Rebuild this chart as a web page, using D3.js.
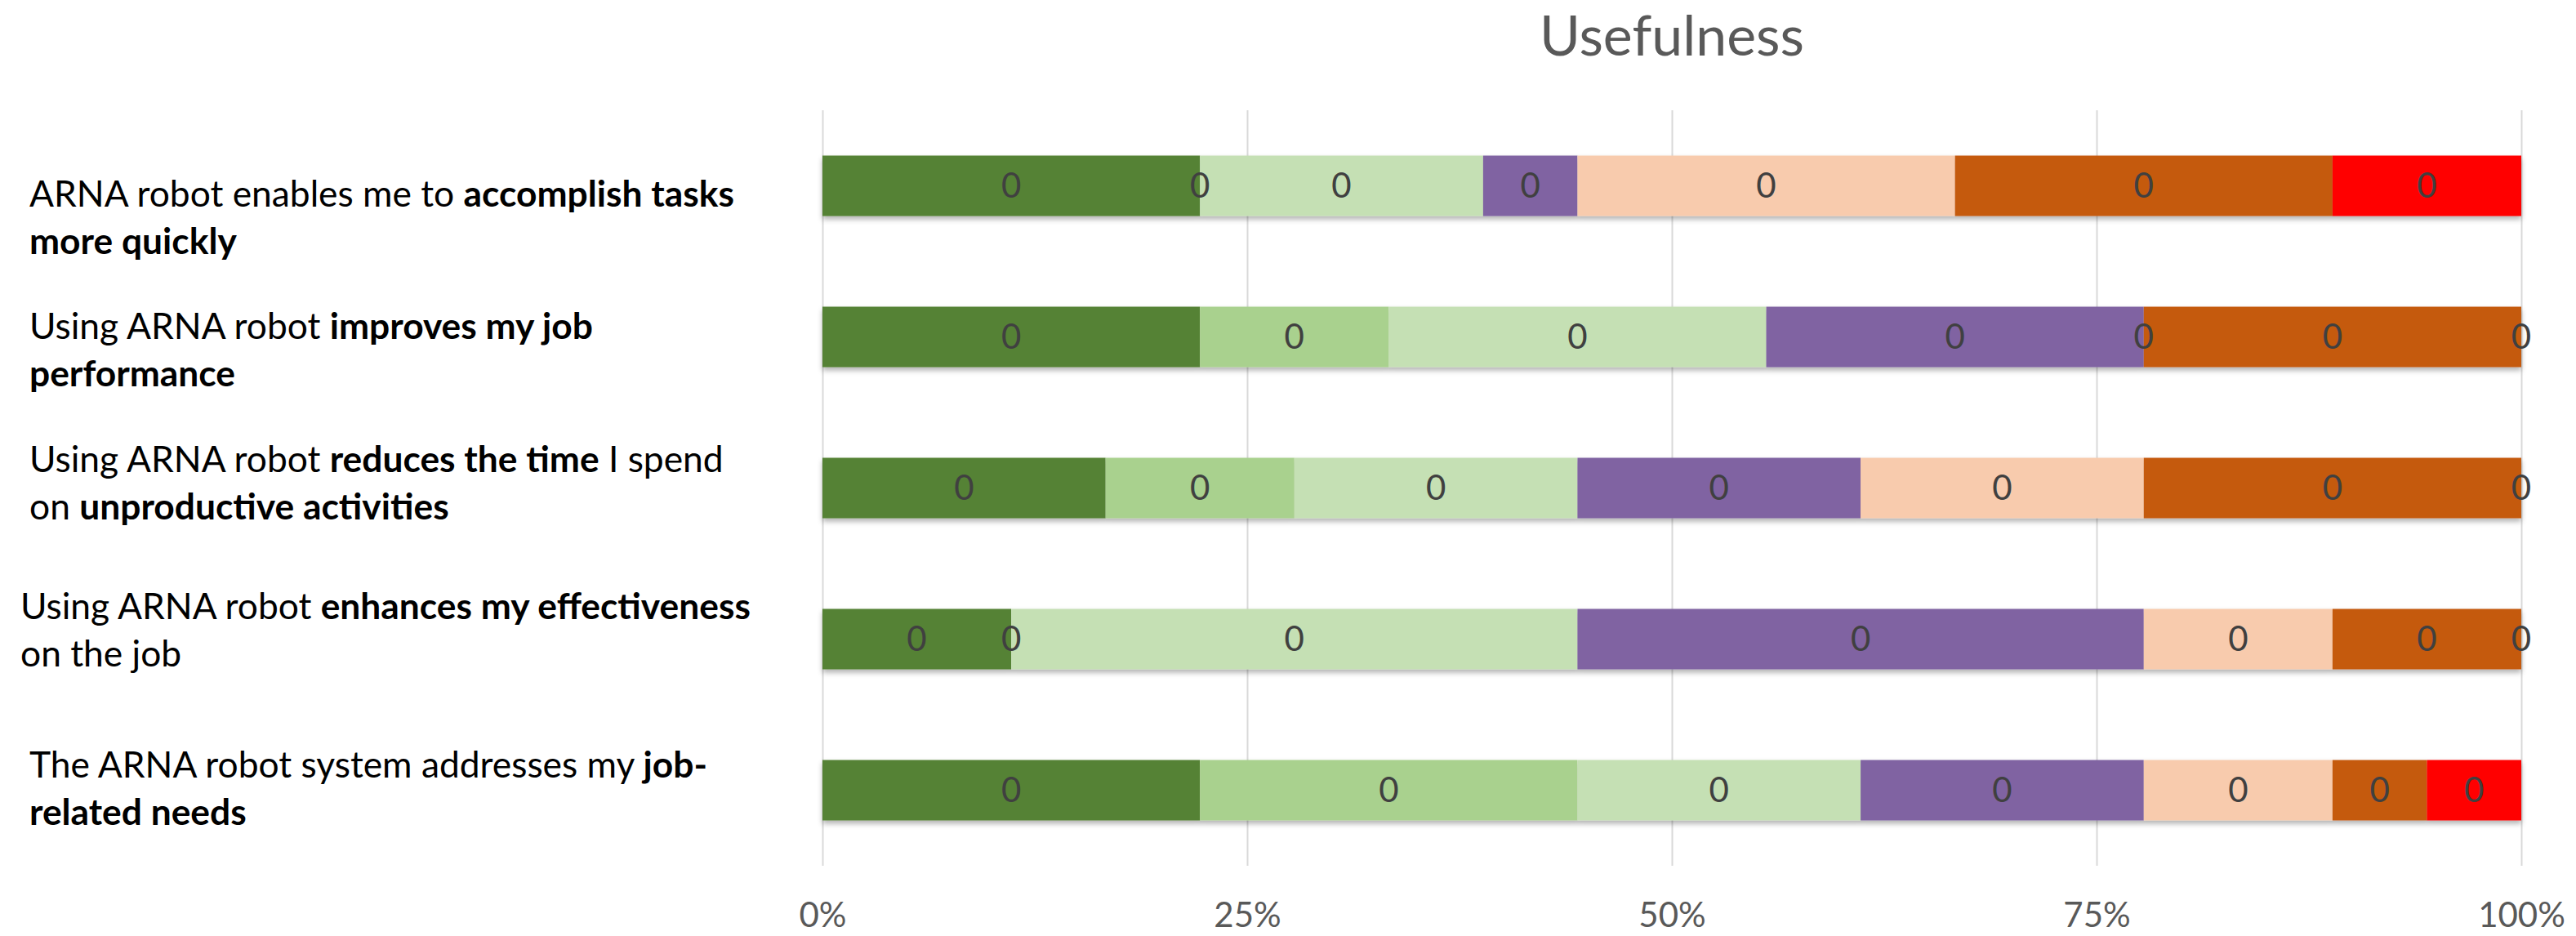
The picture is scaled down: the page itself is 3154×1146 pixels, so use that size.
<!DOCTYPE html>
<html>
<head>
<meta charset="utf-8">
<script src="https://cdn.jsdelivr.net/npm/d3@7"></script>
<style>
  body { margin: 0; background: #fff; }
  svg { display: block; font-family: Lato, "Open Sans", sans-serif; }
</style>
</head>
<body>
<svg id="chart" width="3154" height="1146"></svg>
<script>
// statements, each line is a list of [text, bold]
const statements = [
  [[["ARNA robot enables me to ", false], ["accomplish tasks", true]], [["more quickly", true]]],
  [[["Using ARNA robot ", false], ["improves my job", true]], [["performance", true]]],
  [[["Using ARNA robot ", false], ["reduces the time", true], [" I spend", false]], [["on ", false], ["unproductive activities", true]]],
  [[["Using ARNA robot ", false], ["enhances my effectiveness", true]], [["on the job", false]]],
  [[["The ARNA robot system addresses my ", false], ["job-", true]], [["related needs", true]]]
];
const rowKeys = ["q1", "q2", "q3", "q4", "q5"];

// response counts per level (18 respondents), one value per statement
const levels = ["l1", "l2", "l3", "l4", "l5", "l6", "l7"];
const l1 = [4, 4, 3, 2, 4];
const l2 = [0, 2, 2, 0, 4];
const l3 = [3, 4, 3, 6, 3];
const l4 = [1, 4, 3, 6, 3];
const l5 = [4, 0, 3, 2, 2];
const l6 = [4, 4, 4, 2, 1];
const l7 = [2, 0, 0, 0, 1];
const levelColors = ["#548235", "#A9D18E", "#C5E0B4", "#8064A2", "#F8CBAD", "#C55A11", "#FF0000"];
const segmentLabel = "0";
const xTicks = [0, 0.25, 0.5, 0.75, 1];
const title = "Usefulness";

// text box nudges (the statements sit in a hand-placed text box)
const labelX = [36, 36, 36, 25, 36];
const labelDy = [25, 2, -20, -25, -16];

const rows = rowKeys.map((k, i) => ({
  key: k, l1: l1[i], l2: l2[i], l3: l3[i], l4: l4[i], l5: l5[i], l6: l6[i], l7: l7[i]
}));

const svg = d3.select("#chart");
const M = { left: 1007, right: 3087, top: 135, bottom: 1060 };

const x = d3.scaleLinear().domain([0, 1]).range([M.left, M.right]);
const y = d3.scaleBand().domain(rowKeys).range([M.top, M.bottom])
  .paddingInner(0.6).paddingOuter(0.3);

const defs = svg.append("defs");
const f = defs.append("filter").attr("id", "shadow")
  .attr("x", "-2%").attr("y", "-20%").attr("width", "104%").attr("height", "160%");
f.append("feDropShadow").attr("dx", 0).attr("dy", 4).attr("stdDeviation", 3)
  .attr("flood-color", "#000").attr("flood-opacity", 0.3);

// gridlines
svg.append("g")
  .attr("transform", `translate(0,${M.bottom})`)
  .call(d3.axisTop(x).tickValues(xTicks).tickSize(M.bottom - M.top).tickFormat(""))
  .call(g => g.select(".domain").remove())
  .call(g => g.selectAll("line").attr("stroke", "#D9D9D9").attr("stroke-width", 2));

// x axis labels
svg.append("g")
  .attr("transform", `translate(0,${M.bottom})`)
  .call(d3.axisBottom(x).tickValues(xTicks).tickSize(0).tickFormat(d3.format(".0%")))
  .call(g => g.select(".domain").remove())
  .call(g => g.selectAll("text")
    .attr("y", 75).attr("dy", 0)
    .attr("fill", "#595959")
    .style("font-family", "Lato, sans-serif")
    .style("font-size", "42px"));

// stacked bars
const stack = d3.stack().keys(levels).offset(d3.stackOffsetExpand);
const stacked = stack(rows);

const rowG = svg.append("g").selectAll("g")
  .data(rowKeys)
  .join("g")
  .attr("filter", "url(#shadow)");

rowG.selectAll("rect")
  .data((k, i) => stacked.map((s, j) => ({ s0: s[i][0], s1: s[i][1], key: k, c: levelColors[j] })))
  .join("rect")
  .attr("x", d => x(d.s0))
  .attr("y", d => y(d.key))
  .attr("width", d => x(d.s1) - x(d.s0))
  .attr("height", y.bandwidth())
  .attr("fill", d => d.c);

// segment labels
const labelG = svg.append("g");
stacked.forEach(s => {
  labelG.selectAll(null)
    .data(s)
    .join("text")
    .attr("x", d => x((d[0] + d[1]) / 2))
    .attr("y", (d, i) => y(rowKeys[i]) + y.bandwidth() / 2)
    .attr("dy", "0.35em")
    .attr("text-anchor", "middle")
    .attr("fill", "#404040")
    .style("font-size", "42px")
    .text(segmentLabel);
});

// statement labels
const stG = svg.append("g");
let baseSize = 44;
const lineGap = 58;
statements.forEach((lines, i) => {
  const t = stG.append("text")
    .attr("class", "stmt")
    .attr("fill", "#000")
    .style("font-size", baseSize + "px");
  lines.forEach((parts, li) => {
    parts.forEach((p, pi) => {
      const ts = t.append("tspan").text(p[0]).attr("font-weight", p[1] ? "bold" : "normal");
      if (pi === 0) {
        ts.attr("x", labelX[i])
          .attr("y", y(rowKeys[i]) + y.bandwidth() / 2 + labelDy[i] + li * lineGap);
      }
    });
  });
});

// fit first statement line to the width it has in the original (Calibri)
const firstLine = stG.select("text.stmt").selectAll("tspan").nodes().slice(0, 2);
const w = firstLine.reduce((a, n) => a + n.getComputedTextLength(), 0);
const fit = baseSize * 863 / w;
stG.selectAll("text.stmt").style("font-size", fit + "px");

// title
svg.append("text")
  .attr("x", (M.left + M.right) / 2)
  .attr("y", 68)
  .attr("text-anchor", "middle")
  .attr("fill", "#595959")
  .style("font-size", "68px")
  .text(title);
</script>
</body>
</html>
